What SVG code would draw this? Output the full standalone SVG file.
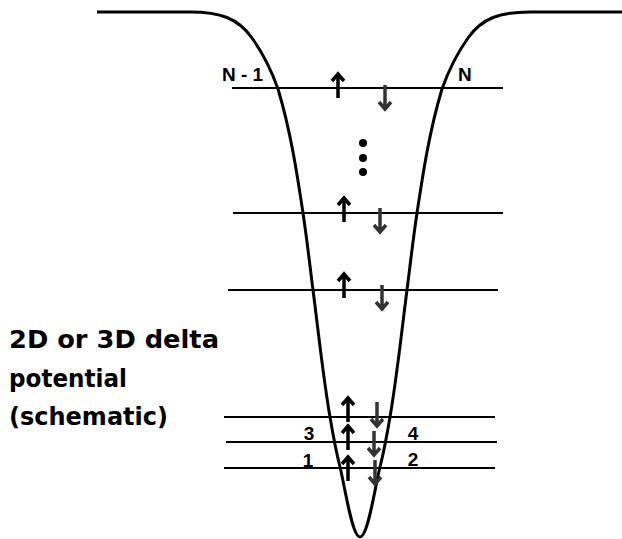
<svg xmlns="http://www.w3.org/2000/svg" width="622" height="539" viewBox="0 0 622 539">
<style>
.lvl{stroke:#000;stroke-width:2;fill:none}
.well{stroke:#000;stroke-width:3;fill:none}
.lbl{font-family:"Liberation Sans",Arial,sans-serif;font-weight:bold;font-size:19px;fill:#000}
.cap{font-family:"DejaVu Sans","Noto Sans",sans-serif;font-weight:bold;font-size:24px;fill:#000}
</style>
<defs>
<g id="up"><path d="M0,25 V1.5 M-6,8 L0,1 L6,8" stroke="#000" stroke-width="3.5" fill="none"/></g>
<g id="dn"><path d="M0,0 V23.5 M-6,17 L0,24 L6,17" stroke="#333" stroke-width="3.5" fill="none"/></g>
</defs>
<rect width="622" height="539" fill="#fff"/>
<g id="well">
<path class="well" d="M97,12 L190,12 C220,12 238,18 252,38 C262,52 272,72 278,89 C290.4,130.3 296.8,171.7 303,213 C306.9,238.7 309.7,264.3 313,290 C318.5,332.3 322.8,374.7 330,417 C332.8,433.7 335.8,450.3 340,467 C345,487 352,537 360,537 C368,537 375,487 380,467 C384.2,450.3 387.2,433.7 390,417 C397.2,374.7 401.5,332.3 407,290 C410.3,264.3 413.1,238.7 417,213 C423.2,171.7 429.6,130.3 442,89 C448,72 458,52 468,38 C482,18 500,12 530,12 L623,12"/>
</g>
<g id="levels">
<line class="lvl" x1="232" y1="88" x2="503" y2="88"/>
<line class="lvl" x1="233" y1="213" x2="503" y2="213"/>
<line class="lvl" x1="228" y1="290" x2="498" y2="290"/>
<line class="lvl" x1="224" y1="417" x2="495" y2="417"/>
<line class="lvl" x1="226" y1="442" x2="497" y2="442"/>
<line class="lvl" x1="224" y1="468" x2="495" y2="468"/>
</g>
<g id="spins">
<use href="#up" transform="translate(338,73)"/>
<use href="#up" transform="translate(344,197)"/>
<use href="#up" transform="translate(344,273)"/>
<use href="#up" transform="translate(348,397)"/>
<use href="#up" transform="translate(348,425)"/>
<use href="#up" transform="translate(348,456)"/>
<use href="#dn" transform="translate(385,85)"/>
<use href="#dn" transform="translate(380,208)"/>
<use href="#dn" transform="translate(382,285)"/>
<use href="#dn" transform="translate(377,402)"/>
<use href="#dn" transform="translate(374,431)"/>
<use href="#dn" transform="translate(375,460)"/>
</g>
<g id="dots" fill="#000">
<circle cx="363" cy="143" r="4"/>
<circle cx="363" cy="158" r="4"/>
<circle cx="363" cy="172" r="4"/>
</g>
<g id="labels">
<text class="lbl" x="222" y="81">N - 1</text>
<text class="lbl" x="458" y="81">N</text>
<text class="lbl" x="309" y="440" text-anchor="middle">3</text>
<text class="lbl" x="413" y="440" text-anchor="middle">4</text>
<text class="lbl" x="308" y="467" text-anchor="middle">1</text>
<text class="lbl" x="413" y="466" text-anchor="middle">2</text>
</g>
<g id="caption">
<text class="cap" x="9" y="348" textLength="210" lengthAdjust="spacingAndGlyphs">2D or 3D delta</text>
<text class="cap" x="9" y="387" textLength="118" lengthAdjust="spacingAndGlyphs">potential</text>
<text class="cap" x="9" y="425" textLength="159" lengthAdjust="spacingAndGlyphs">(schematic)</text>
</g>
</svg>
